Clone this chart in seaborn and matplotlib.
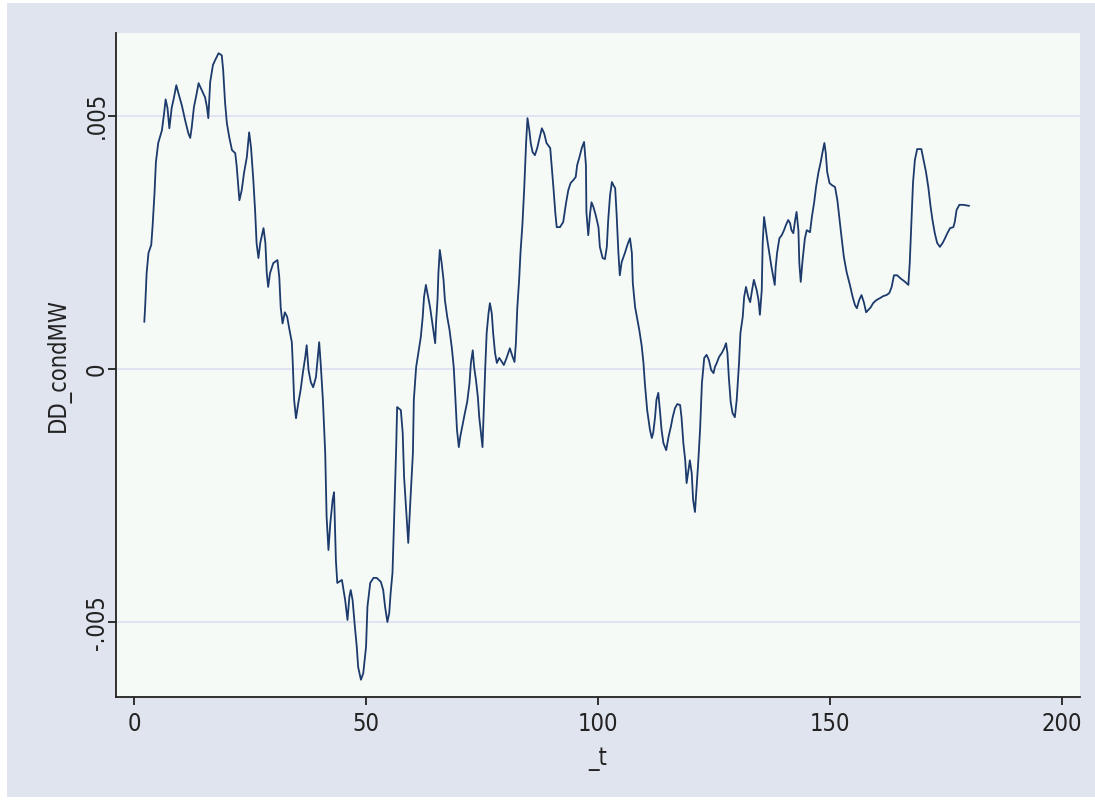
import numpy as np
import pandas as pd
import matplotlib
matplotlib.use("Agg")
import matplotlib.pyplot as plt
from matplotlib.patches import Rectangle
import seaborn as sns

# time index and DD_condMW (in units of 0.001)
t = [2.2, 2.4, 2.7, 3.1, 3.7, 4.0, 4.4, 4.7, 5.2, 6.0, 6.5, 6.8, 7.2, 7.6, 8.1, 8.6, 9.1, 9.5,
     10.3, 11.0, 11.7, 12.1, 12.4, 12.9, 13.5, 13.9, 14.6, 15.3, 15.7, 16.0, 16.4, 17.0, 17.5,
     18.2, 18.9, 19.2, 19.6, 20.0, 20.5, 21.1, 21.8, 22.1, 22.7, 23.2, 23.7, 24.3, 24.8, 25.2,
     25.7, 26.1, 26.4, 26.8, 27.2, 27.9, 28.3, 28.6, 28.9, 29.3, 30.0, 30.9, 31.3, 31.6, 32.0,
     32.5, 33.0, 33.5, 34.0, 34.2, 34.5, 34.9, 35.4, 35.9, 36.4, 36.9, 37.2, 37.6, 38.1, 38.6,
     39.2, 39.5, 39.9, 40.2, 40.7, 41.2, 41.5, 41.9, 42.3, 42.8, 43.1, 43.5, 43.8, 44.8, 45.5,
     46.0, 46.4, 46.7, 47.1, 47.6, 48.0, 48.3, 48.9, 49.4, 50.0, 50.3, 50.9, 51.6, 52.3, 53.2,
     53.7, 54.1, 54.6, 55.0, 55.3, 55.7, 56.0, 56.5, 56.7, 57.5, 57.9, 58.2, 58.8, 59.1, 59.6,
     60.1, 60.3, 60.8, 61.3, 61.8, 62.2, 62.5, 62.9, 63.4, 63.8, 64.2, 64.5, 64.9, 65.1, 65.4,
     65.6, 65.9, 66.3, 66.7, 67.0, 67.5, 68.0, 68.5, 68.9, 69.2, 69.6, 70.0, 70.3, 70.8, 71.3,
     71.8, 72.3, 72.6, 73.0, 73.3, 73.7, 74.1, 74.4, 74.7, 75.1, 75.3, 75.7, 76.0, 76.4, 76.7,
     77.1, 77.4, 77.8, 78.2, 78.7, 79.3, 79.7, 80.3, 81.0, 81.6, 82.0, 82.3, 82.6, 83.0, 83.3,
     83.7, 84.1, 84.5, 84.8, 85.2, 85.5, 85.9, 86.4, 86.9, 87.4, 87.9, 88.4, 88.9, 89.7, 90.0,
     90.4, 90.8, 91.1, 91.8, 92.5, 93.1, 93.6, 94.1, 94.7, 95.2, 95.5, 96.0, 96.5, 97.0, 97.4,
     97.5, 97.9, 98.3, 98.6, 99.0, 99.5, 100.1, 100.4, 101.0, 101.5, 101.9, 102.2, 102.6, 103.0,
     103.3, 103.7, 104.0, 104.4, 104.7, 105.1, 105.5, 105.8, 106.2, 106.5, 106.9, 107.3, 107.5,
     108.0, 108.5, 108.9, 109.4, 109.8, 110.1, 110.6, 111.2, 111.6, 111.9, 112.3, 112.6, 113.0,
     113.4, 113.7, 114.1, 114.7, 115.2, 115.7, 116.1, 116.6, 117.1, 117.7, 118.0, 118.4, 118.8,
     119.1, 119.5, 119.8, 120.2, 120.5, 120.9, 121.3, 121.6, 122.0, 122.4, 122.9, 123.4, 123.9,
     124.4, 124.9, 125.2, 125.6, 126.1, 126.7, 127.2, 127.6, 127.9, 128.2, 128.6, 129.0, 129.5,
     129.9, 130.4, 130.7, 131.2, 131.5, 131.9, 132.4, 132.8, 133.2, 133.6, 134.2, 134.6, 134.9,
     135.3, 135.5, 135.8, 136.2, 136.5, 136.9, 137.4, 137.8, 138.1, 138.3, 138.6, 139.1, 139.6,
     140.1, 140.5, 141.0, 141.4, 141.7, 142.1, 142.5, 142.8, 143.2, 143.4, 143.7, 144.1, 144.6,
     145.0, 145.7, 146.1, 146.6, 147.0, 147.5, 148.0, 148.4, 148.8, 149.1, 149.4, 149.9, 150.4,
     151.1, 151.6, 152.0, 152.5, 153.0, 153.6, 154.3, 154.9, 155.4, 155.8, 156.3, 156.8, 157.3,
     157.8, 158.2, 158.8, 159.3, 160.0, 160.8, 161.5, 162.2, 162.8, 163.3, 163.8, 164.5, 165.2,
     166.2, 166.9, 167.2, 167.6, 167.9, 168.3, 168.8, 169.7, 170.2, 170.7, 171.2, 171.7, 172.1,
     172.6, 173.1, 173.7, 174.3, 174.8, 175.3, 175.9, 176.6, 176.9, 177.3, 177.9, 178.7, 180.0]

dd_milli = [0.93, 1.26, 1.89, 2.29, 2.45, 2.84, 3.47, 4.08, 4.46, 4.71, 5.07, 5.32, 5.15, 4.75,
            5.15, 5.36, 5.60, 5.46, 5.20, 4.91, 4.65, 4.56, 4.75, 5.17, 5.44, 5.64, 5.50, 5.36,
            5.17, 4.95, 5.66, 6.00, 6.10, 6.23, 6.19, 5.90, 5.27, 4.85, 4.58, 4.32, 4.26, 4.02,
            3.33, 3.53, 3.87, 4.18, 4.67, 4.38, 3.73, 3.10, 2.49, 2.19, 2.49, 2.78, 2.49, 1.89,
            1.62, 1.89, 2.09, 2.15, 1.81, 1.22, 0.90, 1.12, 1.03, 0.77, 0.53, 0.12, -0.61, -0.97,
            -0.67, -0.41, -0.06, 0.24, 0.47, -0.02, -0.26, -0.36, -0.16, 0.14, 0.53, 0.14, -0.61,
            -1.66, -2.92, -3.57, -3.04, -2.58, -2.43, -3.77, -4.22, -4.16, -4.56, -4.95, -4.50,
            -4.36, -4.56, -5.09, -5.48, -5.88, -6.13, -6.00, -5.48, -4.69, -4.22, -4.12, -4.12,
            -4.20, -4.36, -4.69, -4.99, -4.81, -4.42, -4.02, -3.12, -1.54, -0.75, -0.81, -1.26,
            -2.13, -2.98, -3.43, -2.52, -1.66, -0.61, 0.04, 0.34, 0.63, 1.01, 1.42, 1.66, 1.42,
            1.22, 0.97, 0.77, 0.51, 0.93, 1.36, 1.89, 2.35, 2.09, 1.76, 1.36, 1.03, 0.77, 0.41,
            0.04, -0.47, -1.20, -1.54, -1.34, -1.10, -0.87, -0.65, -0.28, 0.12, 0.37, 0.04, -0.22,
            -0.55, -0.95, -1.20, -1.54, -1.01, 0.04, 0.71, 1.10, 1.30, 1.10, 0.71, 0.32, 0.12,
            0.22, 0.14, 0.08, 0.22, 0.41, 0.24, 0.14, 0.51, 1.20, 1.76, 2.31, 2.84, 3.57, 4.46,
            4.95, 4.71, 4.46, 4.28, 4.22, 4.36, 4.56, 4.75, 4.65, 4.46, 4.36, 4.02, 3.57, 3.08,
            2.80, 2.80, 2.90, 3.27, 3.53, 3.67, 3.73, 3.79, 4.02, 4.18, 4.36, 4.48, 4.02, 3.10,
            2.64, 3.08, 3.29, 3.20, 3.04, 2.80, 2.41, 2.19, 2.17, 2.41, 2.94, 3.43, 3.69, 3.63,
            3.57, 3.08, 2.29, 1.85, 2.11, 2.21, 2.29, 2.41, 2.49, 2.58, 2.29, 1.70, 1.22, 0.97,
            0.77, 0.47, 0.12, -0.28, -0.81, -1.20, -1.36, -1.26, -0.95, -0.61, -0.47, -0.87,
            -1.20, -1.46, -1.60, -1.34, -1.14, -0.95, -0.77, -0.69, -0.71, -0.95, -1.46, -1.80,
            -2.25, -1.99, -1.80, -2.05, -2.58, -2.82, -2.25, -1.85, -1.20, -0.28, 0.22, 0.28,
            0.18, -0.02, -0.08, 0.04, 0.12, 0.24, 0.32, 0.41, 0.51, 0.32, -0.16, -0.65, -0.87,
            -0.95, -0.61, 0.12, 0.71, 1.03, 1.42, 1.62, 1.42, 1.32, 1.55, 1.76, 1.56, 1.36, 1.07,
            1.56, 2.49, 3.00, 2.74, 2.54, 2.31, 2.01, 1.81, 1.66, 2.01, 2.29, 2.58, 2.64, 2.74,
            2.84, 2.94, 2.88, 2.74, 2.68, 2.94, 3.10, 2.74, 2.09, 1.72, 2.15, 2.58, 2.74, 2.70,
            3.00, 3.29, 3.59, 3.87, 4.08, 4.28, 4.46, 4.26, 3.89, 3.67, 3.63, 3.59, 3.33, 3.00,
            2.60, 2.21, 1.91, 1.66, 1.42, 1.26, 1.20, 1.36, 1.46, 1.32, 1.12, 1.16, 1.22, 1.30,
            1.36, 1.40, 1.44, 1.46, 1.50, 1.62, 1.85, 1.85, 1.79, 1.72, 1.66, 2.09, 3.00, 3.67,
            4.12, 4.34, 4.34, 4.12, 3.89, 3.59, 3.20, 2.94, 2.68, 2.49, 2.41, 2.49, 2.58, 2.68,
            2.78, 2.80, 2.90, 3.14, 3.24, 3.24, 3.22]

x_ticks = [0, 50, 100, 150, 200]
y_ticks = [-0.005, 0, 0.005]
y_tick_labels = ["-.005", "0", ".005"]

df = pd.DataFrame({"_t": t, "DD_condMW": np.array(dd_milli) / 1000})

sns.set_style("ticks")
plt.rcParams["font.family"] = ["DejaVu Sans"]
plt.rcParams["font.stretch"] = "condensed"

outer = "#E0E4EF"
inner = "#F5FAF6"
ink = "#222222"

fig = plt.figure(figsize=(10.95, 8), dpi=100, facecolor="white")
fig.patches.append(Rectangle((7 / 1095, 3 / 800), 1 - 7 / 1095, 1 - 6 / 800,
                             transform=fig.transFigure, facecolor=outer,
                             edgecolor="none", zorder=-1))
ax = fig.add_axes([116 / 1095, 1 - 697 / 800, (1080 - 116) / 1095, (697 - 33) / 800])
ax.set_facecolor(inner)

for yv in y_ticks:
    ax.axhline(yv, color="#DCDFF0", lw=1.2, zorder=0)

sns.lineplot(data=df, x="_t", y="DD_condMW", ax=ax, color="#1C3A6C", lw=1.3,
             estimator=None, sort=False)

ax.set_xlim(-3.9, 203.9)
ax.set_ylim(-0.00647, 0.00663)
ax.set_xticks(x_ticks)
ax.set_xticklabels([str(v) for v in x_ticks])
ax.set_yticks(y_ticks)
ax.set_yticklabels(y_tick_labels, rotation=90, va="center")

for s in ["top", "right"]:
    ax.spines[s].set_visible(False)
for s in ["left", "bottom"]:
    ax.spines[s].set_color(ink)
    ax.spines[s].set_linewidth(1.3)

ax.tick_params(axis="both", length=6, width=1.3, color=ink,
               labelsize=17, labelcolor=ink)
ax.tick_params(axis="y", pad=-1)
ax.tick_params(axis="x", pad=5)
ax.set_xlabel("_t", fontsize=17, color=ink, labelpad=8)
ax.set_ylabel("DD_condMW", fontsize=17, color=ink, labelpad=10)

fig.savefig("out.png", dpi=100, facecolor=fig.get_facecolor())
